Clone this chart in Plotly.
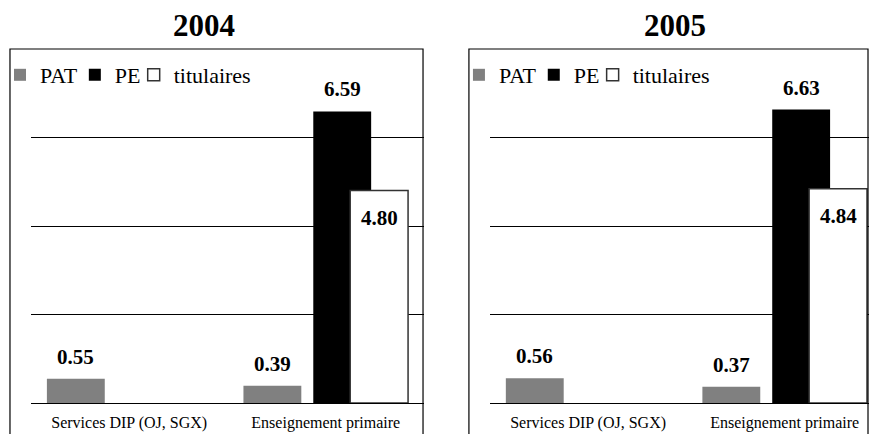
import plotly.graph_objects as go

W, H = 869, 434

categories = ["Services DIP (OJ, SGX)", "Enseignement primaire"]
series_names = ["PAT", "PE", "titulaires"]
years = ["2004", "2005"]

pat_2004 = [0.55, 0.39]
pe_2004 = [None, 6.59]
tit_2004 = [None, 4.80]

pat_2005 = [0.56, 0.37]
pe_2005 = [None, 6.63]
tit_2005 = [None, 4.84]

data = {
    "2004": [pat_2004, pe_2004, tit_2004],
    "2005": [pat_2005, pe_2005, tit_2005],
}

FONT = "Liberation Serif"

def px_x(p):
    return p / W

def px_y(p):
    return 1 - p / H

bar_w = 58 / 197
offsets = [-82.5 / 197, -12.5 / 197, 24.5 / 197]
fills = ["#808080", "#000000", "#ffffff"]
lines = ["#808080", "#000000", "#333333"]
line_w = [0, 0, 1.5]
legend_x_px = [-2, 73, 132]   # left edge of each legend entry inside a panel

fig = go.Figure()

panels = [
    dict(year="2004", xa="x", ya="y", x0=0),
    dict(year="2005", xa="x2", ya="y2", x0=460),
]

annotations = []
legends = {}
k = 0
for p in panels:
    for s, name in enumerate(series_names):
        k += 1
        lname = "legend" if k == 1 else "legend%d" % k
        legends[lname] = dict(
            x=px_x(p["x0"] + legend_x_px[s]), y=px_y(75),
            orientation="h", xanchor="left", yanchor="middle",
            font=dict(family=FONT, size=22, color="#000"),
            bgcolor="rgba(0,0,0,0)", itemwidth=30,
        )
        vals = data[p["year"]][s]
        fig.add_trace(go.Bar(
            x=categories, y=vals, name=name,
            xaxis=p["xa"], yaxis=p["ya"], legend=lname,
            width=bar_w, offset=offsets[s],
            marker=dict(color=fills[s], line=dict(color=lines[s], width=line_w[s])),
            hoverinfo="skip",
        ))
        for i, v in enumerate(vals):
            if v is None:
                continue
            inside = (s == 2)
            annotations.append(dict(
                x=i + offsets[s] + bar_w / 2, y=v,
                xref=p["xa"], yref=p["ya"],
                text="<b>%.2f</b>" % v, showarrow=False,
                yanchor="middle", xanchor="center",
                yshift=-27 if inside else 22,
                font=dict(family=FONT, size=21, color="#000"),
            ))

# titles
annotations.append(dict(x=px_x(202), y=px_y(26), xref="paper", yref="paper",
                        text="<b>2004</b>", showarrow=False, xanchor="center", yanchor="middle",
                        font=dict(family=FONT, size=31, color="#000")))
annotations.append(dict(x=px_x(675), y=px_y(26), xref="paper", yref="paper",
                        text="<b>2005</b>", showarrow=False, xanchor="center", yanchor="middle",
                        font=dict(family=FONT, size=31, color="#000")))

ydom = [px_y(403), px_y(49)]
axis_common_x = dict(type="category", showgrid=False, showline=True, linecolor="#000",
                     linewidth=1, ticks="", tickfont=dict(family=FONT, size=16, color="#000"),
                     fixedrange=True, zeroline=False, ticklabelstandoff=5)
axis_common_y = dict(range=[0, 8], tickvals=[2, 4, 6], showticklabels=False, showgrid=True,
                     gridcolor="#000", gridwidth=1, zeroline=False, showline=False,
                     ticks="", fixedrange=True)

fig.update_layout(
    width=W, height=H,
    margin=dict(l=0, r=0, t=0, b=0),
    font=dict(family=FONT, color="#000"),
    paper_bgcolor="#fff", plot_bgcolor="#fff",
    barmode="overlay",
    showlegend=True,
    xaxis=dict(domain=[px_x(29), px_x(423)], range=[-0.5, 1.5], anchor="y", **axis_common_x),
    yaxis=dict(domain=ydom, anchor="x", **axis_common_y),
    xaxis2=dict(domain=[px_x(489), 1.0], range=[-0.5, -0.5 + 380 / 197], anchor="y2", **axis_common_x),
    yaxis2=dict(domain=ydom, anchor="x2", **axis_common_y),
    annotations=annotations,
    shapes=[
        dict(type="rect", xref="paper", yref="paper", x0=px_x(8), x1=px_x(422),
             y0=-0.2, y1=px_y(49), line=dict(color="#000", width=1.2), fillcolor="rgba(0,0,0,0)", layer="above"),
        dict(type="rect", xref="paper", yref="paper", x0=px_x(468), x1=px_x(868),
             y0=-0.2, y1=px_y(49), line=dict(color="#000", width=1.2), fillcolor="rgba(0,0,0,0)", layer="above"),
    ],
    **legends,
)

fig.write_html("out.html")
